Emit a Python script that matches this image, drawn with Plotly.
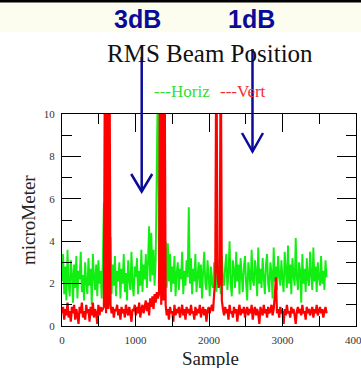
import plotly.graph_objects as go

# ---- data (sample step of 15) ----
horiz = [
    2.1, 3.4, 1.5, 2.8, 1.2, 3.6, 2.0, 1.4, 3.1, 2.5, 1.1, 2.9, 1.8, 3.3, 1.3, 2.6, 2.2, 3.5, 1.6, 2.4,
    1.2, 3.0, 2.0, 1.5, 3.2, 1.9, 2.7, 1.0, 3.4, 2.3, 1.7, 2.9, 1.4, 3.1, 2.0, 2.6, 1.3, 3.0,
    5.8, 2.4, 1.6, 3.0, 2.0, 2.8, 4.2,
    1.5, 2.9, 1.9, 3.3, 1.4, 2.6, 2.1, 3.0, 1.3, 2.7,
    2.0, 3.4, 1.6, 2.5, 1.2, 3.1, 2.2, 1.7, 3.5, 2.0,
    1.4, 2.8, 2.3, 3.2, 1.5, 2.6, 1.9, 3.6, 1.6, 2.9,
    2.2, 3.4, 1.8, 3.0, 4.7, 2.1, 4.4, 2.4, 3.6, 1.9, 3.2, 7.7, 12.0, 2.5,
    2.0, 3.1, 1.8, 2.9, 2.2, 4.0, 1.8, 3.9, 2.1, 3.4,
    1.6, 2.8, 2.0, 3.3, 1.4, 2.5, 3.0, 1.7, 2.7, 2.2, 3.5, 1.5, 2.6, 1.9, 3.1, 2.3,
    5.6,
    2.0, 3.2, 1.5, 2.7, 2.1, 3.4, 1.6, 2.4, 3.0, 1.8, 2.9, 1.3, 2.6, 3.5, 2.0, 1.7, 3.1, 2.3, 1.4, 2.8, 2.0,
    1.8, 3.0, 2.4, 1.6, 3.2, 2.1, 2.7, 1.5, 3.3, 2.2, 1.9, 2.8,
    3.4, 1.7, 2.5, 4.0, 2.0, 1.4, 3.1, 2.6, 1.8, 3.5, 2.1, 2.9, 1.5, 3.2, 2.4,
    1.6, 2.8, 3.3, 2.0, 1.2, 3.0, 2.5, 1.7, 3.6, 2.2, 1.9, 3.1, 2.6, 1.4, 3.7, 2.0, 2.7,
    1.8, 3.2, 2.3, 1.5, 2.9, 3.4, 2.0, 1.6, 3.0, 2.5, 1.3, 3.7, 2.1, 2.8, 1.7, 3.3, 2.4, 1.9, 3.1, 2.2,
    1.6, 3.5, 2.6, 1.8, 3.8, 2.0, 2.9, 1.5, 3.2, 2.4, 1.9, 4.15, 2.3, 1.7, 3.0, 2.6, 1.1, 3.4, 2.0, 2.7,
    1.6, 3.2, 2.2, 1.9, 3.5, 2.4, 1.7, 3.7, 2.1, 2.8, 1.6, 3.0, 2.3, 1.9, 3.3, 2.0, 2.6, 1.7, 3.1, 2.3,
]

vert = [
    0.6, 0.9, 0.3, 0.8, 0.5, 1.1, 0.4, 0.7, 0.2, 0.9, 0.6, 1.0, 0.3, 0.8, 0.5, 0.1, 0.9, 0.6, 1.1, 0.4,
    0.7, 0.3, 1.0, 0.6, 0.8, 0.2, 0.9, 0.5, 1.1, 0.4, 0.8, 0.6, 0.1, 1.0, 0.5, 0.9, 0.7, 0.8,
    0.9, 14.0, 0.6, 14.0, 0.8, 14.0, 1.0,
    0.6, 0.9, 0.4, 0.8, 0.7, 1.0, 0.5, 0.8, 0.3, 0.9,
    0.6, 0.8, 0.4, 1.0, 0.7, 0.5, 0.9, 0.6, 0.2, 0.8,
    0.7, 1.0, 0.5, 0.9, 0.6, 1.1, 0.4, 0.8, 1.0, 0.6,
    0.9, 1.2, 0.7, 1.1, 0.5, 1.3, 0.9, 1.4, 0.8, 1.5, 1.1, 1.6, 1.3,
    1.5, 14.0, 1.0, 14.0, 1.2, 14.0, 1.0,
    0.5, 0.8, 0.3, 0.9, 0.6, 0.7, 0.2, 1.0, 0.5, 0.8, 0.6, 0.9, 0.4, 0.7, 1.0, 0.5, 0.8, 0.3, 0.9, 0.6,
    0.8, 0.5, 1.0, 0.6, 0.7, 0.3, 0.9, 0.5, 0.8, 0.6, 1.0, 0.4, 0.7, 0.9, 0.5, 0.8, 0.2, 0.7, 0.9, 0.6, 0.8, 1.0,
    0.7, 1.5, 2.2, 14.0, 2.6, 1.8, 2.0, 14.0, 1.2, 0.8,
    0.5, 0.9, 0.6, 0.8, 0.3, 1.0, 0.6, 0.7, 0.4, 0.9, 0.6, 0.8, 0.2, 0.7, 1.0, 0.5, 0.8, 0.6, 0.9, 0.4,
    0.7, 0.9, 0.5, 0.8, 0.6, 1.0, 0.3, 0.7, 0.9, 0.5, 0.8, 0.6, 0.1, 0.9, 0.7, 0.5, 1.0, 0.6, 0.8, 0.4,
    0.9, 0.6, 0.7, 1.0, 0.5, 0.8,
    1.4, 2.3, 0.6,
    0.8, 0.4, 0.9, 0.6, 0.7, 0.1, 0.8, 0.5, 1.0, 0.6,
    0.7, 0.4, 0.9, 0.6, 0.8, 0.5, 0.1, 0.7, 0.9, 0.6,
    0.8, 0.5, 1.0, 0.6, 0.7, 0.3, 0.9, 0.6, 0.8, 0.5,
    0.7, 0.9, 0.4, 0.8, 0.6, 1.0, 0.5, 0.7, 0.9, 0.6,
    0.8, 0.4, 0.7, 0.9, 0.6,
]

assert len(horiz) == 241, len(horiz)
assert len(vert) == 241, len(vert)
samples_h = [15 * i for i in range(len(horiz))]
samples_v = [15 * i for i in range(len(vert))]

x_ticks = [0, 1000, 2000, 3000, 4000]
y_ticks = [0, 2, 4, 6, 8, 10]

W, H = 361, 368
L, R, T, B = 62, 5, 114, 42
PW, PH = W - L - R, H - T - B


def px(x):
    return (x - L) / PW


def py(y):
    return (H - B - y) / PH


fig = go.Figure()
fig.add_trace(go.Scatter(x=samples_h, y=horiz, mode="lines",
                         line=dict(color="#11ee11", width=1.9, simplify=False), name="Horiz"))
fig.add_trace(go.Scatter(x=samples_v, y=vert, mode="lines",
                         line=dict(color="#ff0000", width=2.2, simplify=False), name="Vert"))

serif = "Liberation Serif"
navy = "#0b0b9b"
axis_common = dict(
    showline=True, linecolor="black", linewidth=1.3, mirror="ticks",
    ticks="inside", tickcolor="black", tickwidth=1.3,
    showgrid=False, zeroline=False, automargin=False,
    tickfont=dict(family=serif, size=11, color="#333333"),
)

fig.update_xaxes(range=[0, 4000], tickvals=x_ticks, ticklen=18,
                 minor=dict(dtick=500, ticks="inside", ticklen=10, tickcolor="black", tickwidth=1.3, showgrid=False),
                 ticklabelstandoff=4, ticklabeloverflow="allow", **axis_common)
fig.update_yaxes(range=[0, 10], tickvals=y_ticks, ticklen=19,
                 minor=dict(dtick=1, ticks="inside", ticklen=10, tickcolor="black", tickwidth=1.3, showgrid=False),
                 ticklabelstandoff=4, **axis_common)

shapes = [
    dict(type="rect", xref="paper", yref="paper", x0=px(-5), x1=px(W + 5), y0=py(32), y1=py(-5),
         fillcolor="#fdfdef", line=dict(width=0), layer="below"),
    dict(type="rect", xref="paper", yref="paper", x0=px(-5), x1=px(W + 5), y0=py(2.5), y1=py(-5),
         fillcolor="black", line=dict(width=0), layer="above"),
]


def arrow(xc, ytop, ytip, half_w, head_top):
    return [
        dict(type="line", xref="paper", yref="paper", x0=px(xc), x1=px(xc), y0=py(ytop), y1=py(ytip),
             line=dict(color=navy, width=2.5)),
        dict(type="path", xref="paper", yref="paper",
             path=f"M {px(xc - half_w)} {py(head_top)} L {px(xc)} {py(ytip)} L {px(xc + half_w)} {py(head_top)}",
             line=dict(color=navy, width=2.5)),
    ]


shapes += arrow(141.7, 57, 191.5, 10.5, 174)
shapes += arrow(252.5, 49, 151.5, 10.5, 133)

annotations = [
    dict(text="3dB", x=px(137.5), y=py(19), xref="paper", yref="paper", showarrow=False,
         xanchor="center", yanchor="middle",
         font=dict(family="Liberation Sans", size=25, color=navy, weight="bold")),
    dict(text="1dB", x=px(251), y=py(19), xref="paper", yref="paper", showarrow=False,
         xanchor="center", yanchor="middle",
         font=dict(family="Liberation Sans", size=25, color=navy, weight="bold")),
    dict(text="RMS Beam Position", x=px(210.5), y=py(53), xref="paper", yref="paper", showarrow=False,
         xanchor="center", yanchor="middle", font=dict(family=serif, size=25, color="#111111")),
    dict(text="---Horiz", x=px(152), y=py(91.5), xref="paper", yref="paper", showarrow=False,
         xanchor="left", yanchor="middle", font=dict(family=serif, size=17, color="#33dd33")),
    dict(text="---Vert", x=px(218), y=py(91.5), xref="paper", yref="paper", showarrow=False,
         xanchor="left", yanchor="middle", font=dict(family=serif, size=17, color="#ee3030")),
    dict(text="microMeter", x=px(28.5), y=py(220.5), xref="paper", yref="paper", showarrow=False,
         textangle=-90, xanchor="center", yanchor="middle", font=dict(family=serif, size=19, color="#222222")),
    dict(text="Sample", x=px(210), y=py(358), xref="paper", yref="paper", showarrow=False,
         xanchor="center", yanchor="middle", font=dict(family=serif, size=19, color="#222222")),
]

fig.update_layout(
    width=W, height=H, margin=dict(l=L, r=R, t=T, b=B, pad=0, autoexpand=False),
    paper_bgcolor="white", plot_bgcolor="white", showlegend=False,
    shapes=shapes, annotations=annotations,
)

fig.write_html("out.html")
